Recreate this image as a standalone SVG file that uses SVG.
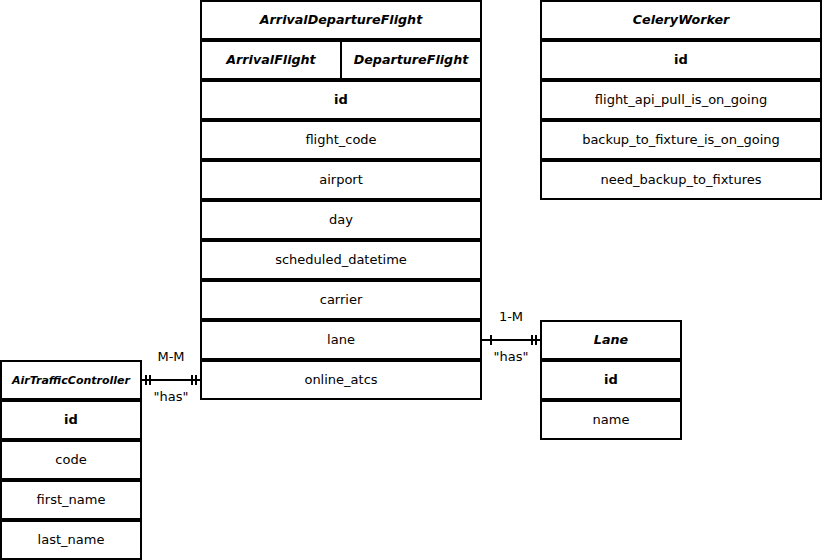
<svg xmlns="http://www.w3.org/2000/svg" width="822" height="560" viewBox="0 0 822 560">
<style>
rect.c{fill:#fff;stroke:#000;stroke-width:2}
text{font-family:"DejaVu Sans",sans-serif;font-size:13px;text-anchor:middle;fill:#000}
text.h{font-weight:bold;font-style:italic;font-size:12.7px}
text.k{font-weight:bold}
text.s{font-size:11px}
line.e{stroke:#000;stroke-width:2}
</style>
<rect width="822" height="560" fill="#fff"/>
<g id="ArrivalDepartureFlight">
<rect class="c" x="201" y="1" width="280" height="38"/><text class="h" x="341" y="23.5">ArrivalDepartureFlight</text>
<rect class="c" x="201" y="41" width="140" height="38"/><text class="h" x="271" y="63.5">ArrivalFlight</text>
<rect class="c" x="341" y="41" width="140" height="38"/><text class="h" x="411" y="63.5">DepartureFlight</text>
<rect class="c" x="201" y="81" width="280" height="38"/><text class="k" x="341" y="103.5">id</text>
<rect class="c" x="201" y="121" width="280" height="38"/><text x="341" y="143.5">flight_code</text>
<rect class="c" x="201" y="161" width="280" height="38"/><text x="341" y="183.5">airport</text>
<rect class="c" x="201" y="201" width="280" height="38"/><text x="341" y="223.5">day</text>
<rect class="c" x="201" y="241" width="280" height="38"/><text x="341" y="263.5">scheduled_datetime</text>
<rect class="c" x="201" y="281" width="280" height="38"/><text x="341" y="303.5">carrier</text>
<rect class="c" x="201" y="321" width="280" height="38"/><text x="341" y="343.5">lane</text>
<rect class="c" x="201" y="361" width="280" height="38"/><text x="341" y="383.5">online_atcs</text>
</g>
<g id="CeleryWorker">
<rect class="c" x="541" y="1" width="280" height="38"/><text class="h" x="681" y="23.5">CeleryWorker</text>
<rect class="c" x="541" y="41" width="280" height="38"/><text class="k" x="681" y="63.5">id</text>
<rect class="c" x="541" y="81" width="280" height="38"/><text x="681" y="103.5">flight_api_pull_is_on_going</text>
<rect class="c" x="541" y="121" width="280" height="38"/><text x="681" y="143.5">backup_to_fixture_is_on_going</text>
<rect class="c" x="541" y="161" width="280" height="38"/><text x="681" y="183.5">need_backup_to_fixtures</text>
</g>
<g id="Lane">
<rect class="c" x="541" y="321" width="140" height="38"/><text class="h" x="611" y="343.5">Lane</text>
<rect class="c" x="541" y="361" width="140" height="38"/><text class="k" x="611" y="383.5">id</text>
<rect class="c" x="541" y="401" width="140" height="38"/><text x="611" y="423.5">name</text>
</g>
<g id="AirTrafficController">
<rect class="c" x="1" y="361" width="140" height="38"/><text class="h s" x="71" y="383.5">AirTrafficController</text>
<rect class="c" x="1" y="401" width="140" height="38"/><text class="k" x="71" y="423.5">id</text>
<rect class="c" x="1" y="441" width="140" height="38"/><text x="71" y="463.5">code</text>
<rect class="c" x="1" y="481" width="140" height="38"/><text x="71" y="503.5">first_name</text>
<rect class="c" x="1" y="521" width="140" height="38"/><text x="71" y="543.5">last_name</text>
</g>
<g id="connectors">
<line class="e" x1="142" y1="380" x2="200" y2="380"/>
<line class="e" x1="146" y1="375" x2="146" y2="385"/>
<line class="e" x1="150" y1="375" x2="150" y2="385"/>
<line class="e" x1="192" y1="375" x2="192" y2="385"/>
<line class="e" x1="196" y1="375" x2="196" y2="385"/>
<text x="171" y="360.5">M-M</text>
<text x="171" y="400.5">"has"</text>
<line class="e" x1="482" y1="340" x2="540" y2="340"/>
<line class="e" x1="491" y1="335" x2="491" y2="345"/>
<line class="e" x1="532" y1="335" x2="532" y2="345"/>
<line class="e" x1="536" y1="335" x2="536" y2="345"/>
<text x="511" y="320.5">1-M</text>
<text x="511" y="360.5">"has"</text>
</g>
</svg>
